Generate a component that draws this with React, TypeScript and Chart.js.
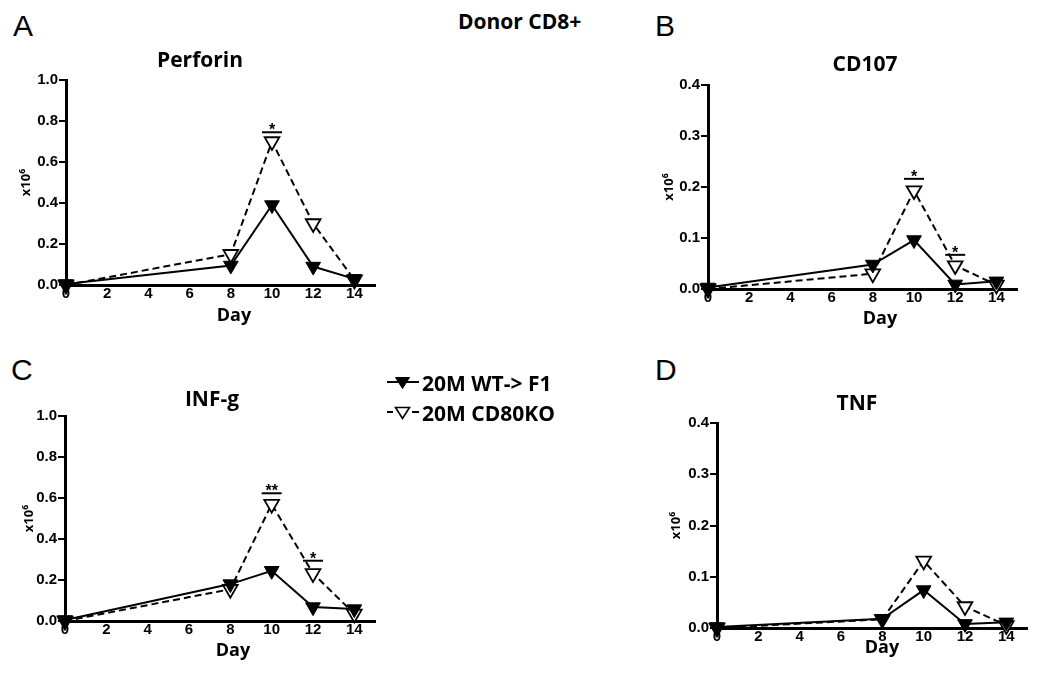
import React, { useEffect, useRef } from "react";
import { Chart, registerables } from "chart.js";

Chart.register(...registerables);

// ---------- data ----------
const days = [0, 8, 10, 12, 14];
const xTickValues = [0, 2, 4, 6, 8, 10, 12, 14];
const yTicksLarge = [0, 0.2, 0.4, 0.6, 0.8, 1.0];
const yTicksSmall = [0, 0.1, 0.2, 0.3, 0.4];

const seriesNames = ["20M WT-> F1", "20M CD80KO"];

const perforinWT = [0.005, 0.095, 0.39, 0.09, 0.03];
const perforinKO = [0.0, 0.15, 0.7, 0.3, 0.025];
const cd107WT = [0.003, 0.048, 0.096, 0.009, 0.015];
const cd107KO = [0.0, 0.03, 0.193, 0.046, 0.008];
const infgWT = [0.005, 0.18, 0.245, 0.068, 0.058];
const infgKO = [0.0, 0.155, 0.57, 0.232, 0.035];
const tnfWT = [0.002, 0.018, 0.074, 0.008, 0.011];
const tnfKO = [0.0, 0.017, 0.131, 0.042, 0.005];

const perforinSigDays = [10];
const perforinSigLevels = [0.745];
const perforinSigMarks = ["*"];
const cd107SigDays = [10, 12];
const cd107SigLevels = [0.216, 0.067];
const cd107SigMarks = ["*", "*"];
const infgSigDays = [10, 12];
const infgSigLevels = [0.623, 0.294];
const infgSigMarks = ["**", "*"];
const tnfSigDays: number[] = [];
const tnfSigLevels: number[] = [];
const tnfSigMarks: string[] = [];

// ---------- styling ----------
const TITLE_FONT = "'Open Sans', 'DejaVu Sans', sans-serif";
const TICK_FONT = "'Liberation Sans', Arial, sans-serif";
const TITLE_SIZE = 21;
const DAY_SIZE = 18;
const YT_SIZE = 13;
const TICK_SIZE = 15;
const MARKER_R = 8.5;
const Y_SCALE_W = 50;

type Geo = {
  cl: number; ct: number; cw: number; ch: number;
  al: number; at: number; ar: number; ab: number;
  titleX: number; titleY: number; dayX: number; dayY: number; yTitleX: number;
};

const sigPlugin = {
  id: "sig",
  afterDatasetsDraw(chart: any, _args: any, opts: any) {
    const xs = chart.scales.x;
    const ys = chart.scales.y;
    const ctx = chart.ctx;
    const d: number[] = opts.days || [];
    const lv: number[] = opts.levels || [];
    const mk: string[] = opts.marks || [];
    ctx.save();
    ctx.strokeStyle = "#000";
    ctx.fillStyle = "#000";
    ctx.lineWidth = 2;
    ctx.font = `bold 16px ${TICK_FONT}`;
    ctx.textAlign = "center";
    ctx.textBaseline = "alphabetic";
    for (let i = 0; i < d.length; i++) {
      const px = xs.getPixelForValue(d[i]);
      const py = ys.getPixelForValue(lv[i]);
      ctx.beginPath();
      ctx.moveTo(px - 10, py);
      ctx.lineTo(px + 10, py);
      ctx.stroke();
      ctx.fillText(mk[i], px, py + 3);
    }
    ctx.restore();
  },
};

// draws the panel heading and the x-axis caption at the spots given in options
const panelTextPlugin = {
  id: "panelText",
  afterDraw(chart: any, _args: any, opts: any) {
    const ctx = chart.ctx;
    ctx.save();
    ctx.fillStyle = "#000";
    ctx.textAlign = "center";
    ctx.textBaseline = "middle";
    ctx.font = `bold ${TITLE_SIZE}px ${TITLE_FONT}`;
    ctx.fillText(opts.title, opts.titleX, opts.titleY);
    ctx.font = `bold ${DAY_SIZE}px ${TITLE_FONT}`;
    ctx.fillText(opts.xTitle, opts.xTitleX, opts.xTitleY);
    ctx.restore();
  },
};

function buildConfig(
  g: Geo,
  title: string,
  wt: number[],
  ko: number[],
  yTicks: number[],
  sigDays: number[],
  sigLevels: number[],
  sigMarks: string[]
): any {
  const YLH = YT_SIZE * 1.2;
  const L = g.al - Y_SCALE_W - g.cl;
  const R = g.cl + g.cw - g.ar;
  const T = g.at - g.ct;
  const xH = g.ct + g.ch - g.ab;
  const yPad = g.yTitleX - g.cl - L - YLH / 2;

  return {
    type: "line",
    data: {
      datasets: [
        {
          label: seriesNames[0],
          data: days.map((d, i) => ({ x: d, y: wt[i] })),
          borderColor: "#000",
          backgroundColor: "#000",
          borderWidth: 2,
          pointStyle: "triangle",
          rotation: 180,
          pointRadius: MARKER_R,
          pointBackgroundColor: "#000",
          pointBorderColor: "#000",
          pointBorderWidth: 1,
          clip: false,
        },
        {
          label: seriesNames[1],
          data: days.map((d, i) => ({ x: d, y: ko[i] })),
          borderColor: "#000",
          backgroundColor: "#fff",
          borderWidth: 2,
          borderDash: [7, 4],
          pointStyle: "triangle",
          rotation: 180,
          pointRadius: MARKER_R,
          pointBackgroundColor: "#fff",
          pointBorderColor: "#000",
          pointBorderWidth: 1.8,
          clip: false,
        },
      ],
    },
    options: {
      animation: false,
      responsive: false,
      events: [],
      layout: { padding: { left: L, right: R, top: T, bottom: 0 } },
      plugins: {
        legend: { display: false },
        tooltip: { enabled: false },
        title: { display: false },
        sig: { days: sigDays, levels: sigLevels, marks: sigMarks },
        panelText: {
          title,
          titleX: g.titleX - g.cl,
          titleY: g.titleY - g.ct,
          xTitle: "Day",
          xTitleX: g.dayX - g.cl,
          xTitleY: g.dayY - g.ct,
        },
      },
      scales: {
        x: {
          type: "linear",
          min: 0,
          max: 15,
          afterBuildTicks: (s: any) => {
            s.ticks = xTickValues.map((v) => ({ value: v }));
          },
          afterFit: (s: any) => {
            s.height = xH;
          },
          ticks: {
            color: "#000",
            font: { family: TICK_FONT, size: TICK_SIZE, weight: "bold" },
            padding: 0,
            maxRotation: 0,
            autoSkip: false,
            callback: (v: any) => String(v),
          },
          grid: { display: true, drawOnChartArea: false, drawTicks: false, color: "#000" },
          border: { display: true, color: "#000", width: 3 },
        },
        y: {
          type: "linear",
          min: 0,
          max: yTicks[yTicks.length - 1],
          afterBuildTicks: (s: any) => {
            s.ticks = yTicks.map((v) => ({ value: v }));
          },
          afterFit: (s: any) => {
            s.width = Y_SCALE_W;
          },
          ticks: {
            color: "#000",
            font: { family: TICK_FONT, size: TICK_SIZE, weight: "bold" },
            padding: 1,
            autoSkip: false,
            callback: (v: any) => Number(v).toFixed(1),
          },
          grid: {
            display: true,
            drawOnChartArea: false,
            drawTicks: true,
            tickLength: 7,
            lineWidth: 2,
            color: "#000",
          },
          border: { display: true, color: "#000", width: 3 },
          title: {
            display: true,
            text: "x10\u2076",
            color: "#000",
            font: { family: TITLE_FONT, size: YT_SIZE, weight: "bold", lineHeight: 1.2 },
            padding: { top: yPad, bottom: 0 },
          },
        },
      },
    },
    plugins: [sigPlugin, panelTextPlugin],
  };
}

const geoA: Geo = { cl: 0, ct: 30, cw: 390, ch: 300, al: 66, at: 80, ar: 375, ab: 285, titleX: 200, titleY: 61, dayX: 234, dayY: 316, yTitleX: 26 };
const geoB: Geo = { cl: 620, ct: 30, cw: 420, ch: 300, al: 708, at: 85, ar: 1017, ab: 289, titleX: 865, titleY: 65, dayX: 880, dayY: 319, yTitleX: 669 };
const geoC: Geo = { cl: 0, ct: 360, cw: 390, ch: 300, al: 65, at: 416, ar: 375, ab: 621, titleX: 212, titleY: 400, dayX: 233, dayY: 651, yTitleX: 29 };
const geoD: Geo = { cl: 620, ct: 360, cw: 425, ch: 300, al: 717, at: 423, ar: 1027, ab: 628, titleX: 857, titleY: 404, dayX: 882, dayY: 648, yTitleX: 676 };

function Panel(props: { geo: Geo; make: () => any }) {
  const ref = useRef<HTMLCanvasElement | null>(null);
  useEffect(() => {
    if (!ref.current) return;
    const chart = new Chart(ref.current, props.make());
    return () => chart.destroy();
  }, []);
  const g = props.geo;
  return (
    <canvas
      ref={ref}
      width={g.cw}
      height={g.ch}
      style={{ position: "absolute", left: g.cl, top: g.ct, width: g.cw, height: g.ch }}
    />
  );
}

const letterStyle = (left: number, top: number): React.CSSProperties => ({
  position: "absolute",
  left,
  top,
  fontFamily: TICK_FONT,
  fontSize: 30,
  lineHeight: 1,
  color: "#000",
  whiteSpace: "nowrap",
});

const legendTextStyle: React.CSSProperties = {
  fontFamily: TITLE_FONT,
  fontWeight: "bold",
  fontSize: 21,
  lineHeight: "21px",
  color: "#000",
  whiteSpace: "nowrap",
};

export default function App() {
  return (
    <div style={{ position: "absolute", left: 0, top: 0, width: 1050, height: 679, background: "#fff", overflow: "hidden" }}>
      <div style={letterStyle(13, 11)}>A</div>
      <div style={letterStyle(655, 11)}>B</div>
      <div style={letterStyle(11, 355)}>C</div>
      <div style={letterStyle(655, 355)}>D</div>
      <div
        style={{
          position: "absolute",
          left: 458,
          top: 11,
          fontFamily: TITLE_FONT,
          fontWeight: "bold",
          fontSize: 21,
          lineHeight: 1,
          whiteSpace: "nowrap",
          color: "#000",
        }}
      >
        Donor CD8+
      </div>

      <Panel geo={geoA} make={() => buildConfig(geoA, "Perforin", perforinWT, perforinKO, yTicksLarge, perforinSigDays, perforinSigLevels, perforinSigMarks)} />
      <Panel geo={geoB} make={() => buildConfig(geoB, "CD107", cd107WT, cd107KO, yTicksSmall, cd107SigDays, cd107SigLevels, cd107SigMarks)} />
      <Panel geo={geoC} make={() => buildConfig(geoC, "INF-g", infgWT, infgKO, yTicksLarge, infgSigDays, infgSigLevels, infgSigMarks)} />
      <Panel geo={geoD} make={() => buildConfig(geoD, "TNF", tnfWT, tnfKO, yTicksSmall, tnfSigDays, tnfSigLevels, tnfSigMarks)} />

      {/* legend */}
      <div style={{ position: "absolute", left: 386, top: 372 }}>
        <div style={{ display: "flex", alignItems: "center", height: 22 }}>
          <svg width={34} height={22} style={{ display: "block" }}>
            <line x1={1} y1={10} x2={33} y2={10} stroke="#000" strokeWidth={2} />
            <polygon points="9.5,5.5 23.5,5.5 16.5,16.5" fill="#000" stroke="#000" strokeWidth={1} />
          </svg>
          <span style={{ ...legendTextStyle, marginLeft: 2 }}>{seriesNames[0]}</span>
        </div>
        <div style={{ display: "flex", alignItems: "center", height: 22, marginTop: 8 }}>
          <svg width={34} height={22} style={{ display: "block" }}>
            <line x1={1} y1={10} x2={7} y2={10} stroke="#000" strokeWidth={2} />
            <line x1={26} y1={10} x2={33} y2={10} stroke="#000" strokeWidth={2} />
            <polygon points="9.5,5.5 23.5,5.5 16.5,16.5" fill="#fff" stroke="#000" strokeWidth={1.6} />
          </svg>
          <span style={{ ...legendTextStyle, marginLeft: 2 }}>{seriesNames[1]}</span>
        </div>
      </div>
    </div>
  );
}
